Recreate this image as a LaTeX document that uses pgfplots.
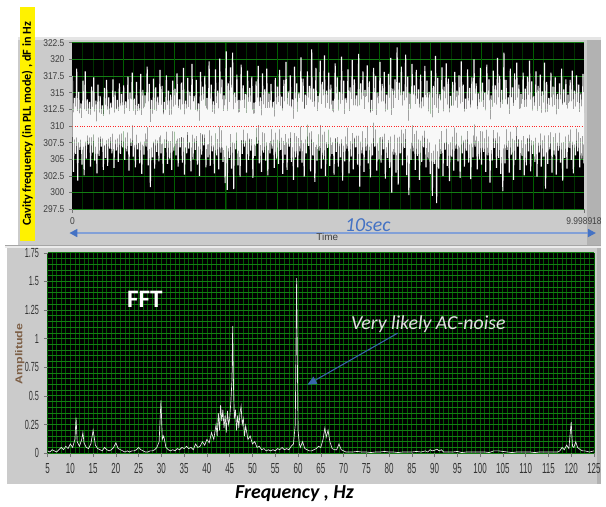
\documentclass[border=0pt]{standalone}
\usepackage{fontspec}
\setmainfont{Liberation Sans}
\newfontfamily\carlito{Carlito}
\newfontfamily\narrowfont[FakeStretch=0.55]{Liberation Sans}
\newfontfamily\semifont[FakeStretch=0.85]{Liberation Sans}
\usepackage{graphicx}
\usepackage{pgfplots}
\pgfplotsset{compat=1.18}
\usetikzlibrary{arrows.meta}
\definecolor{panel}{RGB}{203,203,203}
\definecolor{panelDark}{RGB}{178,178,178}
\definecolor{gmaj}{RGB}{20,125,20}
\definecolor{gvmaj}{RGB}{0,95,0}
\definecolor{gmin}{RGB}{0,50,0}
\definecolor{lblue}{RGB}{130,160,215}
\definecolor{dblue}{RGB}{68,114,196}
\definecolor{sblue}{RGB}{55,100,170}
\definecolor{ampbrown}{RGB}{125,95,70}
\definecolor{trace}{RGB}{232,232,232}
\definecolor{tracetop}{RGB}{248,248,248}
\begin{document}
\begin{tikzpicture}
\begin{scope}[x=0.75pt,y=-0.75pt]
\useasboundingbox (0,0) rectangle (606,508);
\fill[white] (0,0) rectangle (606,508);
\fill[panel] (18,37) rectangle (606,247);
\fill[white!90!black] (18,37) rectangle (606,40);
\fill[panelDark] (592,40) rectangle (606,247);
\fill[black!35] (5,247) rectangle (606,248);
\fill[white!92!black] (5,248) rectangle (606,250);
\fill[panel] (7,250) rectangle (606,488);
\fill[panelDark] (602,250) rectangle (606,488);
\end{scope}

% ---------------- top: time trace ----------------
\begin{axis}[
  at={(54.75pt,-158.25pt)}, anchor=south west, scale only axis,
  width=387pt, height=126pt,
  xmin=0, xmax=9.998918, ymin=297.5, ymax=322.5,
  ytick={297.5,300,302.5,305,307.5,310,312.5,315,317.5,320,322.5},
  xtick={0,9.998918}, xticklabels={0,9.998918},
  minor xtick={0.2,0.4,...,9.8},
  extra x ticks={1,2,3,4,5,6,7,8,9}, extra x tick labels={},
  extra x tick style={grid=major, major tick length=0pt, major grid style={draw=gvmaj, line width=0.6pt}},
  scaled ticks=false,
  ymajorgrids, xminorgrids,
  major grid style={draw=gmaj, line width=0.6pt},
  minor grid style={draw=gmin, line width=0.5pt},
  axis background/.style={fill=black},
  axis line style={draw=none},
  tick pos=left, tick align=outside, major tick length=2.5pt, minor tick length=0pt,
  tick style={black!55, line width=0.4pt},
  /pgf/number format/assume math mode=true,
  yticklabel style={font=\semifont\fontsize{7.5}{8}\selectfont, text=black!75},
  xticklabel style={font=\semifont\fontsize{7.5}{8}\selectfont, text=black!75},
]
\addplot[tracetop, line width=0.85pt, line join=miter] table[x expr=\coordindex*0.020875, y index=0, header=false, row sep=\\] {
317.5\\303.1\\314.2\\305.8\\318.6\\301.8\\315.1\\306.4\\313.4\\304.2\\316.8\\302.6\\318.2\\305.1\\314.0\\307.2\\
313.6\\303.9\\315.9\\306.0\\317.3\\304.8\\313.8\\302.9\\316.2\\305.5\\314.5\\306.9\\313.1\\303.4\\315.7\\305.2\\
316.9\\304.0\\314.3\\306.6\\313.5\\305.9\\317.0\\303.7\\315.2\\306.3\\313.9\\304.6\\316.4\\305.8\\314.8\\306.8\\
316.1\\304.9\\313.7\\306.2\\317.4\\303.3\\315.0\\307.0\\318.0\\305.4\\314.1\\303.8\\316.6\\306.5\\313.3\\304.4\\
317.8\\302.8\\315.4\\305.7\\314.6\\306.9\\318.9\\304.1\\316.3\\300.8\\313.9\\305.3\\317.1\\303.6\\315.8\\306.1\\
314.4\\304.7\\318.4\\305.9\\316.0\\302.9\\313.6\\306.7\\317.6\\304.3\\315.3\\305.1\\314.7\\303.4\\316.8\\306.3\\
315.6\\305.6\\317.9\\303.9\\314.0\\306.8\\316.5\\304.5\\318.7\\302.7\\313.8\\305.9\\317.2\\306.6\\315.1\\303.2\\
319.3\\305.0\\314.5\\306.4\\316.9\\304.2\\313.4\\302.5\\318.1\\305.7\\315.9\\307.1\\317.5\\303.8\\314.2\\305.3\\
319.7\\304.0\\316.2\\306.2\\313.7\\302.9\\318.5\\305.6\\315.3\\303.5\\320.1\\306.0\\317.0\\304.6\\314.6\\301.4\\
321.2\\300.4\\316.4\\305.2\\318.8\\303.6\\321.0\\300.5\\315.0\\306.5\\317.7\\304.1\\313.9\\302.4\\319.2\\305.8\\
316.1\\306.9\\314.8\\303.0\\318.3\\304.9\\315.7\\306.3\\317.4\\302.2\\313.5\\305.5\\316.7\\307.3\\319.0\\304.4\\
314.3\\303.1\\317.9\\306.0\\315.5\\304.8\\318.6\\302.6\\314.9\\305.9\\316.3\\306.6\\313.6\\303.7\\317.2\\305.1\\
315.9\\304.3\\318.4\\306.4\\314.4\\302.8\\316.9\\305.7\\319.6\\303.4\\315.2\\306.9\\317.6\\304.6\\314.0\\301.9\\
318.9\\305.3\\316.4\\303.8\\315.0\\306.2\\320.3\\304.5\\317.1\\302.4\\314.7\\305.9\\318.2\\307.0\\316.0\\303.2\\
321.5\\305.6\\315.6\\301.6\\318.7\\304.8\\314.5\\306.3\\319.8\\303.6\\316.6\\305.0\\320.6\\302.5\\315.3\\306.7\\
318.0\\304.0\\316.2\\305.8\\313.8\\302.7\\319.4\\306.1\\317.3\\303.9\\315.1\\305.3\\320.4\\301.8\\316.8\\304.7\\
314.2\\306.6\\318.5\\302.9\\315.8\\305.4\\319.9\\303.5\\317.0\\306.8\\314.6\\304.2\\320.8\\300.9\\316.4\\305.9\\
318.2\\303.1\\315.4\\306.3\\319.1\\304.4\\316.7\\302.3\\313.9\\305.6\\318.7\\306.9\\317.5\\303.3\\315.0\\305.0\\
319.6\\304.5\\316.3\\306.5\\318.1\\302.1\\314.7\\305.2\\317.8\\303.7\\320.2\\300.0\\315.6\\305.7\\317.0\\303.0\\
321.8\\301.2\\316.5\\305.9\\318.9\\304.1\\315.2\\306.7\\320.7\\302.6\\317.4\\299.6\\314.9\\304.9\\319.3\\306.2\\
316.1\\303.4\\318.4\\305.5\\315.5\\301.9\\317.7\\304.6\\314.3\\306.8\\319.0\\303.8\\316.8\\305.1\\315.1\\302.8\\
318.3\\299.5\\316.0\\304.3\\320.5\\298.4\\317.2\\303.6\\314.8\\305.8\\318.8\\302.5\\315.9\\306.4\\319.4\\304.0\\
317.1\\301.7\\314.5\\305.4\\316.6\\303.3\\318.1\\306.6\\315.3\\304.7\\317.6\\302.2\\319.7\\305.9\\316.2\\303.9\\
314.1\\306.3\\318.5\\304.5\\315.7\\302.0\\317.3\\305.3\\320.0\\306.9\\316.4\\303.5\\314.9\\305.0\\318.7\\304.2\\
316.5\\306.1\\315.0\\303.1\\319.2\\305.6\\317.0\\301.5\\314.6\\304.8\\318.3\\306.7\\316.1\\303.7\\320.2\\305.2\\
317.5\\302.8\\315.4\\300.2\\321.0\\304.4\\316.9\\306.4\\314.3\\303.0\\318.6\\305.7\\315.8\\301.9\\317.9\\304.9\\
319.5\\306.9\\316.2\\303.4\\314.8\\305.5\\318.0\\302.6\\315.6\\304.1\\317.4\\306.2\\319.8\\303.2\\316.7\\305.8\\
314.5\\304.6\\318.2\\302.4\\316.0\\306.0\\317.7\\303.9\\315.2\\305.4\\319.5\\300.6\\316.6\\304.3\\314.2\\306.5\\
318.0\\303.0\\315.9\\305.7\\317.3\\302.7\\314.8\\306.3\\316.4\\304.5\\318.6\\301.8\\315.5\\305.2\\317.0\\303.6\\
314.7\\306.7\\316.9\\304.9\\318.3\\302.9\\315.3\\305.6\\317.6\\306.2\\316.2\\303.8\\314.9\\305.1\\317.8\\304.4\\
};
\addplot[red!85!white, line width=0.6pt, dash pattern=on 0.7pt off 1.1pt] coordinates {(0,310) (9.998918,310)};
\end{axis}

% ---------------- bottom: FFT ----------------
\begin{axis}[
  at={(36pt,-342.75pt)}, anchor=south west, scale only axis,
  width=413.25pt, height=151.5pt,
  xmin=5, xmax=125, ymin=0, ymax=1.75,
  xtick={5,10,...,125},
  ytick={0,0.25,0.5,0.75,1,1.25,1.5,1.75},
  minor x tick num=4, minor y tick num=4,
  grid=both,
  x grid style={draw=gvmaj, line width=0.6pt},
  y grid style={draw=gmaj, line width=0.7pt},
  minor grid style={draw=gmin, line width=0.4pt},
  axis background/.style={fill=black},
  axis line style={draw=none},
  tick pos=left, tick align=outside, major tick length=3pt, minor tick length=0pt,
  tick style={black!55, line width=0.4pt},
  /pgf/number format/assume math mode=true,
  yticklabel style={font=\narrowfont\fontsize{10}{10}\selectfont, text=black!80},
  xticklabel style={font=\narrowfont\fontsize{11}{11}\selectfont, text=black!80, yshift=-1pt},
]
\addplot[trace, line width=0.5pt] coordinates {
(5,0.02)(5.5,0.01)(6,0.03)(6.5,0.02)(7,0.01)(7.5,0.03)(8,0.05)(8.5,0.03)(9,0.06)(9.5,0.04)
(10,0.08)(10.5,0.05)(11,0.12)(11.25,0.31)(11.5,0.1)(12,0.06)(12.5,0.12)(12.75,0.18)(13,0.09)(13.5,0.05)
(14,0.04)(14.5,0.08)(15,0.2)(15.5,0.07)(16,0.04)(16.5,0.03)(17,0.02)(17.5,0.05)(18,0.03)(18.5,0.02)
(19,0.03)(19.5,0.05)(20,0.09)(20.5,0.04)(21,0.03)(21.5,0.02)(22,0.01)(22.5,0.02)(23,0.01)(23.5,0.02)
(24,0.02)(24.5,0.03)(25,0.05)(25.5,0.03)(26,0.02)(26.5,0.01)(27,0.01)(27.5,0.02)(28,0.02)(28.5,0.03)
(29,0.05)(29.5,0.1)(29.9,0.46)(30.2,0.12)(30.5,0.15)(31,0.05)(31.5,0.03)(32,0.02)(32.5,0.03)(33,0.02)
(33.5,0.04)(34,0.03)(34.5,0.05)(35,0.04)(35.5,0.06)(36,0.04)(36.5,0.05)(37,0.03)(37.5,0.08)(38,0.05)
(38.5,0.06)(39,0.1)(39.5,0.07)(40,0.12)(40.5,0.09)(41,0.18)(41.5,0.12)(42,0.25)(42.25,0.15)(42.5,0.35)
(42.75,0.2)(43,0.42)(43.25,0.28)(43.5,0.38)(43.75,0.22)(44,0.33)(44.25,0.18)(44.5,0.37)(44.75,0.25)(45,0.3)
(45.25,0.45)(45.5,0.64)(45.65,1.11)(45.85,0.55)(46,0.3)(46.25,0.38)(46.5,0.2)(46.75,0.33)(47,0.22)(47.25,0.35)
(47.5,0.41)(47.75,0.25)(48,0.3)(48.25,0.15)(48.5,0.24)(49,0.12)(49.5,0.15)(50,0.08)(50.5,0.1)(51,0.05)
(51.5,0.06)(52,0.03)(52.5,0.04)(53,0.02)(53.5,0.03)(54,0.02)(54.5,0.03)(55,0.02)(55.5,0.04)(56,0.03)
(56.5,0.05)(57,0.03)(57.5,0.04)(58,0.03)(58.5,0.06)(59,0.08)(59.4,0.25)(59.7,1.53)(60,0.2)(60.3,0.08)
(60.5,0.05)(61,0.1)(61.5,0.04)(62,0.03)(62.5,0.02)(63,0.02)(63.5,0.03)(64,0.04)(64.5,0.06)(65,0.05)
(65.5,0.12)(65.9,0.22)(66.2,0.14)(66.6,0.2)(67,0.1)(67.5,0.04)(68,0.03)(68.5,0.03)(69,0.08)(69.5,0.03)
(70,0.02)(70.5,0.01)(71,0.01)(72,0.01)(73,0.015)(74,0.01)(75,0.01)(76,0.005)(77,0.01)(78,0.01)
(79,0.015)(80,0.01)(81,0.01)(82,0.005)(83,0.01)(84,0.01)(85,0.01)(86,0.015)(87,0.01)(88,0.02)
(88.5,0.01)(89,0.03)(89.5,0.02)(90,0.025)(90.5,0.035)(91,0.02)(91.5,0.03)(92,0.01)(93,0.01)(94,0.01)
(95,0.015)(96,0.005)(97,0.01)(98,0.01)(99,0.01)(100,0.01)(101,0.01)(102,0.005)(103,0.02)(104,0.02)
(105,0.015)(106,0.01)(107,0.005)(108,0.01)(109,0.01)(110,0.01)(111,0.01)(112,0.005)(113,0.01)(114,0.01)
(115,0.01)(116,0.01)(117,0.01)(117.5,0.02)(118,0.05)(118.5,0.03)(119,0.07)(119.5,0.04)(120,0.27)(120.3,0.06)
(120.6,0.05)(121,0.1)(121.4,0.05)(122,0.03)(122.5,0.02)(123,0.02)(124,0.01)(125,0.02)
};
\end{axis}

\begin{scope}[x=0.75pt,y=-0.75pt]
% yellow y label of the top panel
\node[rotate=90, fill=yellow, inner xsep=1pt, inner ysep=1.5pt, minimum width=177pt,
      font=\carlito\bfseries\fontsize{9.2}{10}\selectfont] at (27.5,125)
      {Cavity frequency (in PLL mode) , dF in Hz};
% time arrow and labels
\draw[lblue, line width=1.3pt, {Triangle[length=6pt,width=6pt,color=dblue]}-{Triangle[length=6pt,width=6pt,color=dblue]}] (70,235) -- (601,235);
\node[font=\carlito\itshape\fontsize{15}{16}\selectfont, text=dblue] at (371,227) {10sec};
\node[font=\fontsize{7.5}{8}\selectfont, text=black!75] at (330,238.5) {Time};
% FFT panel labels
\node[rotate=90, font=\bfseries\fontsize{7.5}{8}\selectfont, text=ampbrown] at (20,357) {\scalebox{1.25}[1]{Amplitude}};
\node[font=\carlito\bfseries\fontsize{19}{20}\selectfont, text=white] at (146,302) {FFT};
\node[font=\carlito\itshape\fontsize{15}{16}\selectfont, text=white!88!black] at (432,327) {Very likely AC-noise};
\draw[sblue, line width=0.8pt, -{Triangle[length=7pt,width=6pt]}] (401,336) -- (310,388);
\node[font=\carlito\bfseries\itshape\fontsize{15}{16}\selectfont] at (297,498) {Frequency , Hz};
\end{scope}
\end{tikzpicture}
\end{document}
